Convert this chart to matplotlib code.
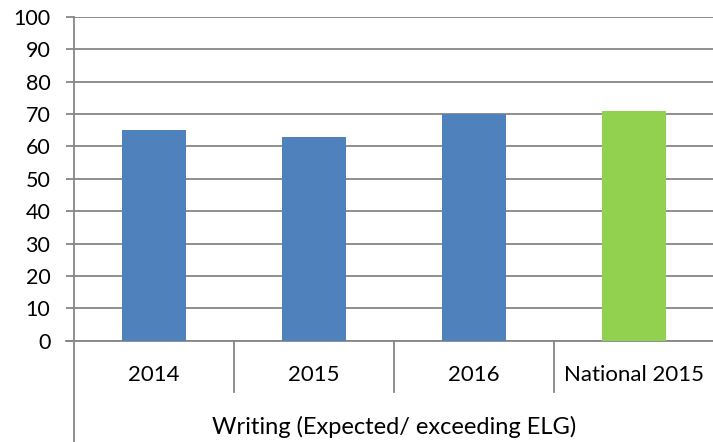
import matplotlib.pyplot as plt
import matplotlib.transforms as mtransforms

categories = ['2014', '2015', '2016', 'National 2015']
values = [65, 63, 70, 71]
bar_colors = ['#4F81BD', '#4F81BD', '#4F81BD', '#92D050']
group_label = 'Writing (Expected/ exceeding ELG)'
y_ticks = list(range(0, 101, 10))

plt.rcParams['font.family'] = ['Lato', 'DejaVu Sans']
grid_col = '#868686'

fig = plt.figure(figsize=(7.13, 4.42), dpi=100)
W, H = 713, 442
# axes box in pixels: left 74, right 714, top 16.7, bottom 340.7
ax = fig.add_axes([74 / W, (H - 340.7) / H, 640 / W, 324 / H])

x = list(range(len(categories)))
ax.bar(x, values, width=0.4, color=bar_colors, zorder=3)

ax.set_xlim(-0.5, len(categories) - 0.5)
ax.set_ylim(0, 100)
ax.set_yticks(y_ticks)
ax.set_yticklabels([str(v) for v in y_ticks], fontsize=15.5)
ax.set_xticks([])
ax.yaxis.grid(True, color=grid_col, linewidth=1.3, zorder=0)
ax.set_axisbelow(True)

for s in ['top', 'right']:
    ax.spines[s].set_visible(False)
ax.spines['bottom'].set_color(grid_col)
ax.spines['bottom'].set_linewidth(1.3)
ax.spines['left'].set_visible(False)
ax.tick_params(axis='y', length=6, width=1.3, color=grid_col, pad=11)

trans = mtransforms.blended_transform_factory(ax.transData, ax.transAxes)
# long left axis line reaching the bottom of the figure
ax.plot([-0.5, -0.5], [1, -(H - 340.7) / 324], color=grid_col, lw=1.3,
        transform=trans, clip_on=False, zorder=4)
# extend the x-axis line left to the tick
ax.plot([-0.5 - 8 / 160, -0.5], [0, 0], color=grid_col, lw=1.3,
        transform=trans, clip_on=False)

# category separators below the axis
for i in range(len(categories) - 1):
    ax.plot([i + 0.5, i + 0.5], [0, -(392 - 341) / 324], color=grid_col,
            lw=1.3, transform=trans, clip_on=False)

for i, c in enumerate(categories):
    ax.text(i, -(375 - 341) / 324, c, transform=trans, ha='center',
            va='center', fontsize=16)

ax.text(0.5, -(427 - 341) / 324, group_label, transform=ax.transAxes,
        ha='center', va='center', fontsize=17)

fig.savefig('out.png', dpi=100)
